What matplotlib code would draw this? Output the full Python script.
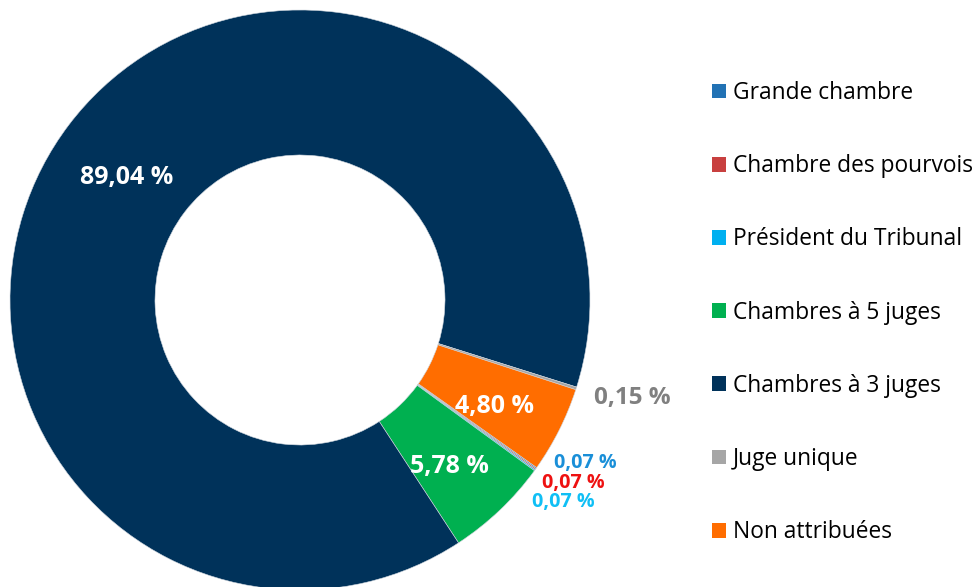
import numpy as np
import matplotlib.pyplot as plt
from matplotlib.patches import Patch

plt.rcParams['font.family'] = ['Open Sans', 'DejaVu Sans']

# Data
labels = ['Grande chambre', 'Chambre des pourvois', 'Président du Tribunal',
          'Chambres à 5 juges', 'Chambres à 3 juges', 'Juge unique', 'Non attribuées']
values = [0.07, 0.07, 0.07, 5.78, 89.04, 0.15, 4.80]
colors = ['#2272b4', '#c8403f', '#00b0f0', '#00b050', '#00325a', '#a6a6a6', '#ff6d00']
label_colors = ['#1a8fd8', '#ee1111', '#10bff5', 'white', 'white', '#808080', 'white']

W, H = 974, 587
fig = plt.figure(figsize=(W / 100, H / 100), dpi=100)
cx, cy, R = 300, 300, 290
ax = fig.add_axes([(cx - R) / W, (H - cy - R) / H, 2 * R / W, 2 * R / H])

start = -35.3
wedges, _ = ax.pie(values, colors=colors, startangle=start, counterclock=False,
                   radius=1.0, wedgeprops=dict(width=0.5, edgecolor='#cfd6de', linewidth=0.4))
ax.set_xlim(-1, 1)
ax.set_ylim(-1, 1)
ax.set_aspect('equal')
ax.axis('off')

def fmt(v):
    return f'{v:.2f}'.replace('.', ',') + ' %'

# Labels inside the ring
for i, (w, v) in enumerate(zip(wedges, values)):
    ang = np.deg2rad((w.theta1 + w.theta2) / 2)
    if v > 1:
        r = 0.75
        ax.text(r * np.cos(ang), r * np.sin(ang) - 0.03, fmt(v), color=label_colors[i],
                ha='center', va='center', fontsize=18, fontweight='bold')

# small slices, labelled outside
gray = wedges[5]
ang = np.deg2rad((gray.theta1 + gray.theta2) / 2)
ax.text(1.19 * np.cos(ang) + 0.012, 1.19 * np.sin(ang) + 0.026, fmt(values[5]),
        color=label_colors[5], ha='center', va='center', fontsize=17.5,
        fontweight='bold', clip_on=False)

tiny_pos = [(0.983, -0.562), (0.942, -0.631), (0.907, -0.697)]
for i, (x, y) in enumerate(tiny_pos):
    ax.text(x, y, fmt(values[i]), color=label_colors[i], ha='center', va='center',
            fontsize=14.2, fontweight='bold', clip_on=False)

# Legend
handles = [Patch(facecolor=c, edgecolor='none') for c in colors]
fig.legend(handles, labels, loc='upper left', bbox_to_anchor=(712 / W, 1 - 81 / H),
           frameon=False, fontsize=16.4, handlelength=0.62, handleheight=0.62,
           handletextpad=0.3, labelspacing=2.16, borderaxespad=0, borderpad=0)

fig.savefig('out.png', dpi=100)
